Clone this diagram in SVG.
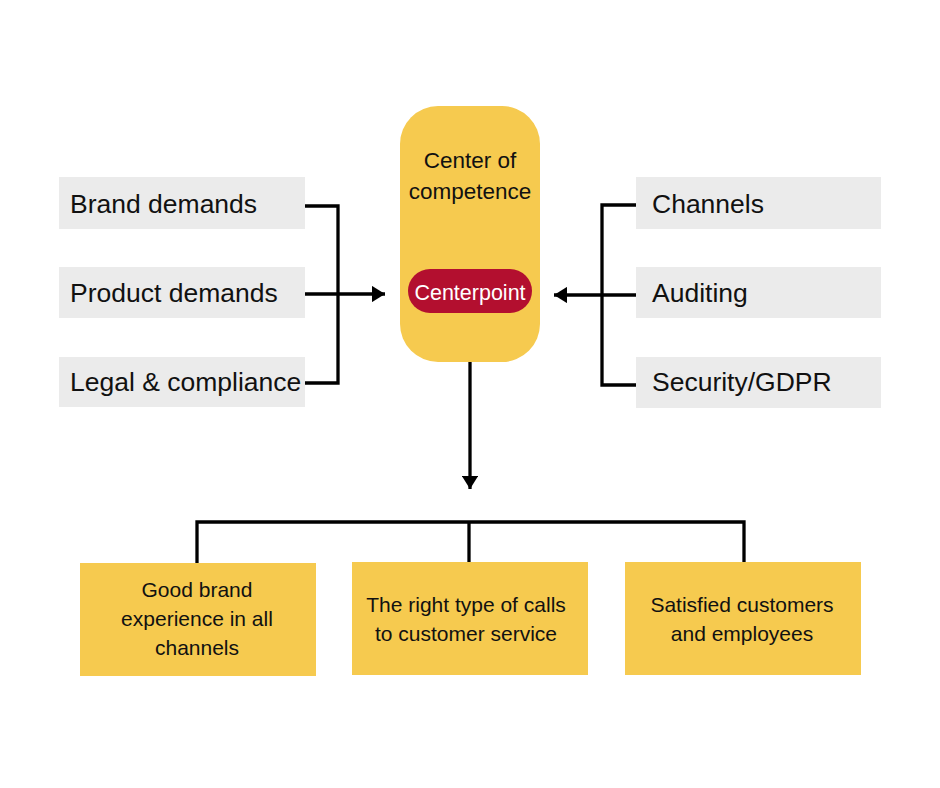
<svg xmlns="http://www.w3.org/2000/svg" width="940" height="788" viewBox="0 0 940 788">
<defs>
<style>
.in{fill:#EBEBEB}
.out{fill:#F6CA4F}
.lbl{font-family:"Liberation Sans",Arial,sans-serif;font-size:26.5px;fill:#111}
.sm{font-family:"Liberation Sans",Arial,sans-serif;font-size:21px;fill:#111;text-anchor:middle}
.ln{fill:none;stroke:#000;stroke-width:3.3}
</style>
<marker id="ah" viewBox="0 0 10 10" refX="10" refY="5" markerWidth="4" markerHeight="5" preserveAspectRatio="none" markerUnits="strokeWidth" orient="auto">
<path d="M0,0 L10,5 L0,10 z" fill="#000"/>
</marker>
</defs>
<rect width="940" height="788" fill="#fff"/>
<g id="brand"><rect class="in" x="59" y="177" width="246" height="52"/><text class="lbl" x="70" y="213">Brand demands</text></g>
<g id="product"><rect class="in" x="59" y="267" width="246" height="51"/><text class="lbl" x="70" y="302">Product demands</text></g>
<g id="legal"><rect class="in" x="59" y="357" width="246" height="50"/><text class="lbl" x="70" y="391">Legal &amp; compliance</text></g>
<g id="channels"><rect class="in" x="636" y="177" width="245" height="52"/><text class="lbl" x="652" y="213">Channels</text></g>
<g id="auditing"><rect class="in" x="636" y="267" width="245" height="51"/><text class="lbl" x="652" y="302">Auditing</text></g>
<g id="security"><rect class="in" x="636" y="357" width="245" height="51"/><text class="lbl" x="652" y="391">Security/GDPR</text></g>
<g id="center"><rect x="400" y="106" width="140" height="256" rx="38" fill="#F6CA4F"/>
<text class="sm" style="font-size:22.5px" x="470" y="168">Center of</text>
<text class="sm" style="font-size:22.5px" x="470" y="199">competence</text></g>
<g id="centerpoint"><rect x="408" y="269" width="124" height="44" rx="22" fill="#B30F2F"/>
<text class="sm" style="fill:#fff;font-size:21.5px" x="470" y="300">Centerpoint</text></g>
<g id="out1"><rect class="out" x="80" y="563" width="236" height="113"/>
<text class="sm" x="197" y="597">Good brand</text><text class="sm" x="197" y="626">experience in all</text><text class="sm" x="197" y="655">channels</text></g>
<g id="out2"><rect class="out" x="352" y="562" width="236" height="113"/>
<text class="sm" x="466" y="612">The right type of calls</text><text class="sm" x="466" y="641">to customer service</text></g>
<g id="out3"><rect class="out" x="625" y="562" width="236" height="113"/>
<text class="sm" x="742" y="612">Satisfied customers</text><text class="sm" x="742" y="641">and employees</text></g>
<g id="connectors">
<path class="ln" d="M305,206 H338 V383 H305"/>
<path class="ln" d="M305,294 H385" marker-end="url(#ah)"/>
<path class="ln" d="M636,205 H602 V385 H636"/>
<path class="ln" d="M636,295 H554" marker-end="url(#ah)"/>
<path class="ln" d="M470,362 V489" marker-end="url(#ah)"/>
<path class="ln" d="M197,563 V522 H744 V562"/>
<path class="ln" d="M469,522 V562"/>
</g>
</svg>
